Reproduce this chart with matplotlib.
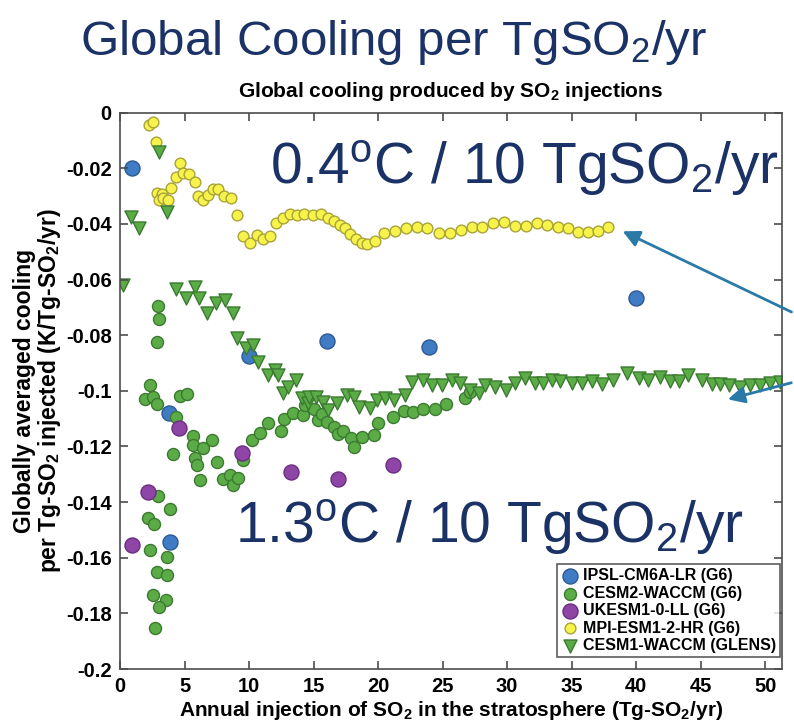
import matplotlib
matplotlib.use('Agg')
from matplotlib import pyplot as plt
from matplotlib.ticker import FuncFormatter, MultipleLocator

plt.rcParams['font.family'] = ['Liberation Sans', 'DejaVu Sans']
plt.rcParams['mathtext.default'] = 'regular'

# IPSL-CM6A-LR (G6)
ipsl_x = [0.91, 3.80, 3.88, 10.0, 16.02, 23.98, 40.0]
ipsl_y = [-0.0200, -0.1081, -0.1543, -0.0875, -0.0820, -0.0841, -0.0667]

# CESM2-WACCM (G6)
cesm2_x = [2.97, 3.05, 2.84, 2.33, 1.94, 2.58, 2.89, 4.65, 5.22, 4.34,
           5.68, 5.64, 6.46, 7.11, 5.81, 5.95, 4.09, 7.50, 9.56, 6.20,
           8.01, 8.53, 8.74, 9.17, 2.97, 3.88, 2.19, 2.64, 2.33, 3.62,
           2.84, 3.62, 2.58, 3.57, 3.05, 2.71,
           10.21, 10.85, 11.50, 12.46, 12.71, 13.43, 14.16, 14.34, 15.04, 15.37,
           15.63, 16.07, 16.59, 16.92, 17.31, 17.88, 18.14, 18.74, 19.69, 20.02,
           21.14, 22.02, 22.74, 23.51, 24.42, 25.27, 26.74, 27.13]
cesm2_y = [-0.0695, -0.0743, -0.0823, -0.0979, -0.1031, -0.1023, -0.1047, -0.1019, -0.1012, -0.1093,
           -0.1163, -0.1195, -0.1207, -0.1177, -0.1243, -0.1267, -0.1227, -0.1255, -0.1249, -0.1321,
           -0.1318, -0.1303, -0.1339, -0.1315, -0.1378, -0.1426, -0.1458, -0.1479, -0.1573, -0.1599,
           -0.1650, -0.1662, -0.1734, -0.1752, -0.1776, -0.1854,
           -0.1177, -0.1153, -0.1117, -0.1143, -0.1103, -0.1079, -0.1087, -0.1051, -0.1067, -0.1105,
           -0.1083, -0.1111, -0.1129, -0.1155, -0.1143, -0.1171, -0.1201, -0.1167, -0.1159, -0.1117,
           -0.1095, -0.1072, -0.1075, -0.1067, -0.1067, -0.1047, -0.1027, -0.1003]

# UKESM1-0-LL (G6)
ukesm_x = [0.91, 2.19, 4.60, 9.43, 13.25, 16.92, 21.14]
ukesm_y = [-0.1554, -0.1363, -0.1135, -0.1225, -0.1290, -0.1318, -0.1267]

# MPI-ESM1-2-HR (G6)
mpi_x = [2.27, 2.53, 2.79, 2.89, 3.23, 3.05, 3.36, 3.70, 3.95, 4.34,
         4.65, 4.91, 5.37, 5.81, 6.07, 6.46, 6.84, 7.23, 7.62, 8.06,
         8.58, 9.05, 9.56, 10.08, 10.60, 11.06, 11.63, 12.09, 12.66, 13.18,
         13.70, 14.26, 14.94, 15.56, 16.15, 16.59, 17.05, 17.44, 17.83, 18.29,
         18.74, 19.17, 19.77, 20.47, 21.32, 22.17, 23.00, 23.82, 24.75, 25.58,
         26.41, 27.26, 28.04, 28.94, 29.77, 30.62, 31.47, 32.30, 33.08, 33.98,
         34.75, 35.53, 36.30, 37.08, 37.85]
mpi_y = [-0.0044, -0.0032, -0.0104, -0.0288, -0.0293, -0.0314, -0.0308, -0.0314, -0.0272, -0.0230,
         -0.0182, -0.0216, -0.0220, -0.0248, -0.0300, -0.0314, -0.0296, -0.0275, -0.0275, -0.0300,
         -0.0308, -0.0368, -0.0443, -0.0467, -0.0440, -0.0455, -0.0443, -0.0398, -0.0380, -0.0364,
         -0.0368, -0.0364, -0.0368, -0.0365, -0.0380, -0.0388, -0.0404, -0.0416, -0.0436, -0.0455,
         -0.0467, -0.0472, -0.0460, -0.0432, -0.0424, -0.0416, -0.0410, -0.0416, -0.0434, -0.0434,
         -0.0422, -0.0412, -0.0410, -0.0396, -0.0392, -0.0407, -0.0407, -0.0398, -0.0404, -0.0412,
         -0.0416, -0.0428, -0.0428, -0.0424, -0.0412]

# CESM1-WACCM (GLENS)
glens_x = [0.21, 0.83, 1.50, 3.05, 3.62, 4.34, 5.12, 5.81, 6.15, 6.77,
           7.44, 8.14, 8.74, 9.05, 9.77, 10.33, 10.72, 11.50, 12.02, 12.27,
           12.66, 13.05, 13.64, 14.08, 14.60, 14.68, 15.19, 15.71, 16.15, 16.85,
           17.57, 18.14, 18.55, 19.38, 19.90, 20.54, 21.24, 22.09, 22.61, 23.51,
           24.16, 24.94, 25.71, 26.36, 27.13, 27.85, 28.29, 29.07, 29.92, 30.62,
           31.40, 32.17, 32.81, 33.47, 34.11, 35.02, 35.79, 36.57, 37.34, 38.24,
           39.28, 40.18, 40.95, 41.86, 42.64, 43.28, 44.05, 45.09, 45.87, 46.51,
           47.16, 48.06, 48.84, 49.61, 50.39, 51.16]
glens_y = [-0.0620, -0.0374, -0.0416, -0.0140, -0.0356, -0.0635, -0.0667, -0.0626, -0.0667, -0.0721,
           -0.0683, -0.0674, -0.0721, -0.0811, -0.0847, -0.0835, -0.0895, -0.0943, -0.0925, -0.0943,
           -0.1009, -0.0985, -0.0961, -0.1027, -0.1045, -0.1021, -0.1021, -0.1039, -0.1069, -0.1045,
           -0.1015, -0.1021, -0.1057, -0.1063, -0.1033, -0.1027, -0.1033, -0.1015, -0.0967, -0.0961,
           -0.0979, -0.0979, -0.0961, -0.0973, -0.0997, -0.1009, -0.0979, -0.0985, -0.0997, -0.0971,
           -0.0955, -0.0973, -0.0971, -0.0961, -0.0964, -0.0973, -0.0971, -0.0964, -0.0976, -0.0961,
           -0.0937, -0.0955, -0.0961, -0.0949, -0.0964, -0.0964, -0.0943, -0.0961, -0.0976, -0.0976,
           -0.0979, -0.0985, -0.0979, -0.0979, -0.0973, -0.0967]

navy = '#1b3266'
arrow_col = '#2a7aa8'

fig = plt.figure(figsize=(7.94, 7.25), dpi=100)
ax = fig.add_axes([120 / 794, 1 - 669 / 725, 662 / 794, 556.3 / 725])

ax.scatter(ipsl_x, ipsl_y, s=117, marker='o', facecolor='#3f7cc4', edgecolor='#2d5a94', lw=1,
           label='IPSL-CM6A-LR (G6)')
ax.scatter(cesm2_x, cesm2_y, s=75, marker='o', facecolor='#5bab47', edgecolor='#3b7a30', lw=1,
           label='CESM2-WACCM (G6)')
ax.scatter(ukesm_x, ukesm_y, s=117, marker='o', facecolor='#8e45a6', edgecolor='#6a2f80', lw=1,
           label='UKESM1-0-LL (G6)')
ax.scatter(mpi_x, mpi_y, s=60, marker='o', facecolor='#f7f34a', edgecolor='#a8a33a', lw=1,
           label='MPI-ESM1-2-HR (G6)')
ax.scatter(glens_x, glens_y, s=88, marker='v', facecolor='#5bab47', edgecolor='#3b7a30', lw=1,
           label='CESM1-WACCM (GLENS)')

ax.set_xlim(0, 51.3)
ax.set_ylim(-0.2, 0)
ax.xaxis.set_major_locator(MultipleLocator(5))
ax.yaxis.set_major_locator(MultipleLocator(0.02))
ax.xaxis.set_major_formatter(FuncFormatter(lambda v, p: '%g' % round(v, 3)))
ax.yaxis.set_major_formatter(FuncFormatter(lambda v, p: '%g' % round(v, 3) if abs(v) > 1e-9 else '0'))
ax.tick_params(direction='in', length=6, width=1.2, color='#4d4d4d', top=True, right=True,
               labelsize=14.5, pad=6)
for lab in ax.get_xticklabels() + ax.get_yticklabels():
    lab.set_fontweight('bold')
for sp in ax.spines.values():
    sp.set_color('#4d4d4d')
    sp.set_linewidth(1.2)

ax.set_title('Global cooling produced by SO$_2$ injections', fontsize=15, fontweight='bold', pad=11)
ax.set_xlabel('Annual injection of SO$_2$ in the stratosphere (Tg-SO$_2$/yr)', fontsize=15,
              fontweight='bold', labelpad=2)
ax.set_ylabel('Globally averaged cooling\nper Tg-SO$_2$ injected (K/Tg-SO$_2$/yr)', fontsize=16.5,
              fontweight='bold', labelpad=2, linespacing=1.0)

leg = ax.legend(loc='lower right', bbox_to_anchor=(0.997, 0.0216), borderaxespad=0,
                fancybox=False, edgecolor='#333333', prop={'weight': 'bold', 'size': 11.5},
                handletextpad=0.2, borderpad=0.25, labelspacing=0.15, handlelength=1.2,
                scatterpoints=1)
leg.get_frame().set_linewidth(1.2)

fig.text(80 / 794, 1 - 55 / 725, 'Global Cooling per TgSO$_2$/yr', fontsize=35.5, color=navy,
         va='baseline', ha='left')
fig.text(270 / 794, 1 - 184 / 725, '0.4$^o$C / 10 TgSO$_2$/yr', fontsize=41, color=navy,
         va='baseline', ha='left')
fig.text(235 / 794, 1 - 543 / 725, '1.3$^o$C / 10 TgSO$_2$/yr', fontsize=41, color=navy,
         va='baseline', ha='left')

ax.annotate('', xy=(38.76, -0.0422), xycoords='data', xytext=(1.0, 0.568),
            textcoords='figure fraction', annotation_clip=False,
            arrowprops=dict(arrowstyle='-|>', color=arrow_col, lw=2, mutation_scale=25))
ax.annotate('', xy=(46.9, -0.1033), xycoords='data', xytext=(1.0, 0.473),
            textcoords='figure fraction', annotation_clip=False,
            arrowprops=dict(arrowstyle='-|>', color=arrow_col, lw=2, mutation_scale=25))

fig.savefig('out.png', dpi=100)
